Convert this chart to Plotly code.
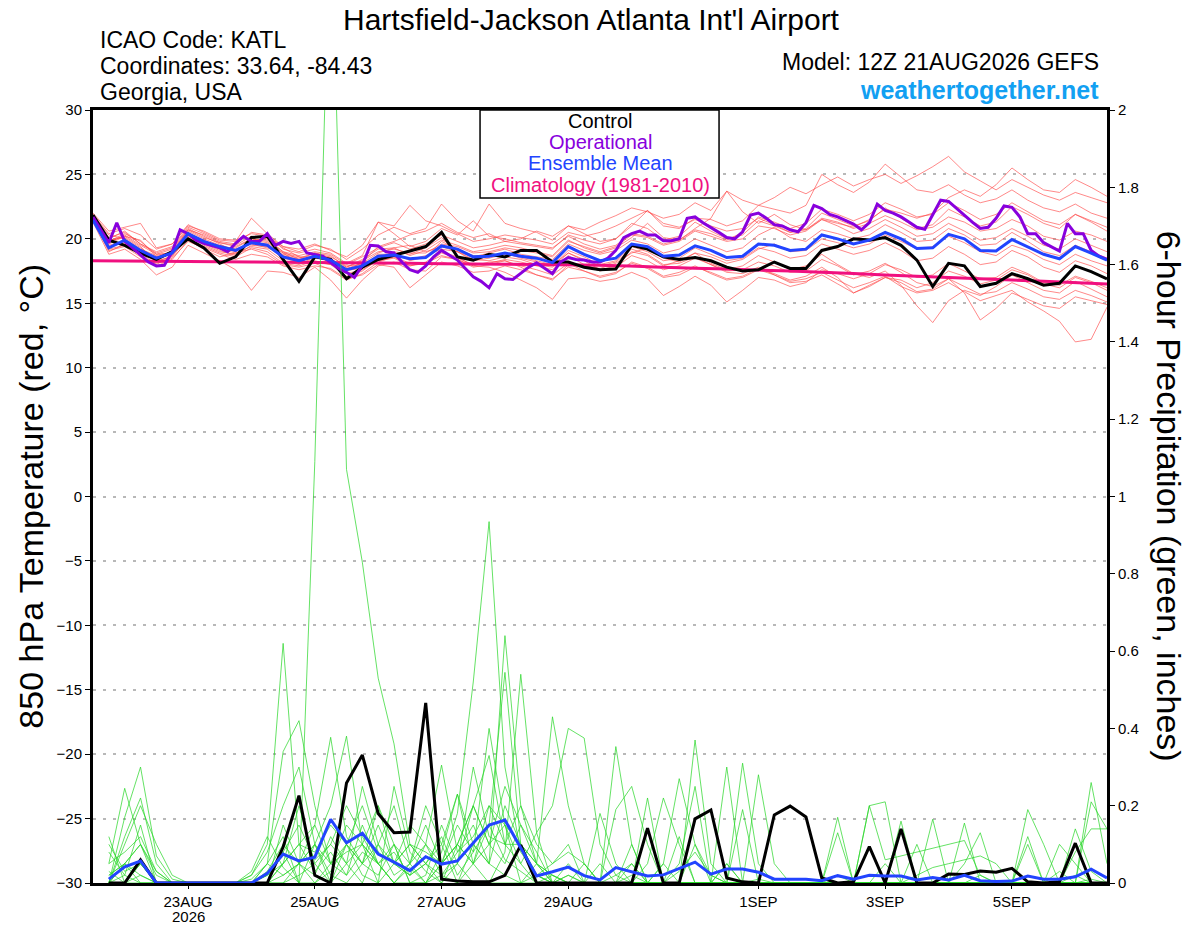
# GEFS meteogram for KATL - 850 hPa temperature plumes and 6-hour precipitation

import pandas as pd
import plotly.graph_objects as go

run_start = "2026-08-21 12:00"
times = pd.date_range(run_start, periods=65, freq="6h")       # 6-hourly members
times_3h = pd.date_range(run_start, periods=129, freq="3h")   # operational run
clim_times = pd.date_range(run_start, periods=17, freq="1D")  # climatology
precip_times = times[1:]                                      # no precip at analysis time

tick_dates = ["2026-08-23", "2026-08-25", "2026-08-27", "2026-08-29",
              "2026-09-01", "2026-09-03", "2026-09-05"]
tick_labels = ["23AUG", "25AUG", "27AUG", "29AUG", "1SEP", "3SEP", "5SEP"]
year_label = "2026"

# 850 hPa temperature (deg C)
temp_control = [21.85, 19.9, 19.5, 18.9, 18.4, 19.0, 20.0, 19.3, 18.1, 18.6, 20.1, 20.2, 18.4, 16.7, 18.6, 18.4, 16.9,
                17.8, 18.4, 18.7, 19.05, 19.4, 20.5, 18.6, 18.35, 18.8, 18.6, 19.1, 19.1, 18.2, 18.2, 17.8, 17.6,
                17.65, 19.5, 19.2, 18.6, 18.4, 18.55, 18.3, 17.8, 17.5, 17.6, 18.2, 17.7, 17.7, 19.1, 19.4, 20.0,
                19.9, 20.1, 19.5, 18.35, 16.3, 18.1, 17.9, 16.3, 16.55, 17.3, 16.9, 16.4, 16.55, 17.9, 17.45, 16.9]
temp_mean = [21.45, 19.3, 19.9, 19.1, 18.5, 18.9, 20.4, 19.8, 19.4, 19.1, 19.7, 19.5, 18.6, 18.3, 18.65, 18.35, 17.6,
             17.9, 18.65, 18.75, 18.45, 18.55, 19.45, 19.2, 18.6, 18.65, 18.9, 18.65, 18.5, 18.15, 19.4, 18.8, 18.3,
             18.5, 19.6, 19.4, 18.65, 18.75, 19.45, 19.1, 18.55, 18.65, 19.6, 19.5, 19.1, 19.2, 20.3, 20.0, 19.6,
             19.9, 20.5, 20.0, 19.25, 19.3, 20.35, 20.0, 19.1, 19.05, 19.95, 19.4, 18.8, 18.45, 19.4, 18.9, 18.35]
temp_oper = [21.7, 20.7, 19.7, 21.25, 19.8, 19.3, 18.75, 18.2, 17.9, 17.95, 19.0, 20.7, 20.4, 19.9, 19.65, 19.5, 19.3,
             19.0, 19.65, 20.2, 19.8, 19.8, 20.4, 19.5, 19.8, 19.65, 19.8, 18.9, 18.8, 18.65, 18.15, 17.7, 17.4,
             17.0, 17.95, 19.5, 19.45, 19.0, 18.9, 18.2, 17.6, 17.4, 17.9, 18.6, 19.1, 18.75, 18.35, 17.7, 17.05,
             16.7, 16.2, 17.3, 16.9, 16.85, 17.3, 17.8, 18.15, 17.7, 17.3, 18.2, 18.55, 18.4, 18.35, 18.2, 18.2,
             18.5, 19.1, 20.1, 20.4, 20.6, 20.3, 20.3, 19.85, 19.85, 20.0, 21.6, 21.7, 21.25, 20.9, 20.5, 20.1,
             20.0, 20.55, 21.85, 22.0, 21.6, 21.1, 21.0, 20.7, 20.55, 21.25, 22.6, 22.35, 21.9, 21.7, 21.4, 21.15,
             20.7, 21.25, 22.7, 22.2, 22.0, 21.7, 21.3, 20.9, 20.75, 21.85, 23.0, 22.9, 22.35, 21.85, 21.3, 20.8,
             20.9, 21.6, 22.55, 22.45, 21.7, 20.4, 20.4, 19.7, 19.4, 19.05, 21.2, 20.4, 20.4, 19.1, 18.65, 18.4]
temp_clim = [18.3, 18.26, 18.22, 18.18, 18.14, 18.1, 18.05, 18.0, 17.95, 17.8, 17.65, 17.5, 17.3, 17.1, 16.9, 16.7, 16.5]

temp_m01 = [21.8, 20.1, 20.5, 19.6, 18.9, 19.3, 20.8, 20.2, 19.6, 19.0, 19.8, 20.1, 19.3, 18.6, 18.2, 18.0, 17.5,
            18.2, 19.4, 19.8, 20.3, 20.6, 21.2, 20.5, 20.1, 20.4, 19.8, 20.0, 20.6, 20.2, 21.0, 20.7, 21.3,
            21.8, 22.4, 22.1, 21.6, 21.9, 22.8, 22.2, 23.7, 23.0, 22.6, 23.2, 24.0, 23.5, 24.2, 24.8, 24.1,
            24.6, 25.0, 24.3, 24.9, 25.6, 26.4, 25.2, 24.5, 23.8, 24.6, 24.0, 23.4, 23.0, 23.6, 23.2, 22.8]
temp_m02 = [21.5, 19.0, 19.6, 18.7, 17.9, 18.4, 19.9, 19.2, 18.6, 18.9, 19.2, 18.8, 18.0, 17.8, 18.1, 17.6, 16.8,
            17.3, 18.2, 18.6, 17.9, 18.1, 18.7, 18.4, 17.8, 18.0, 18.3, 17.9, 17.6, 17.2, 18.1, 17.5, 17.0,
            17.3, 18.2, 17.8, 17.1, 17.4, 17.9, 17.3, 16.8, 17.0, 17.6, 17.2, 16.7, 16.9, 17.4, 16.8, 16.2,
            16.6, 17.1, 16.3, 15.8, 16.0, 16.6, 15.9, 15.2, 15.6, 16.0, 15.1, 14.4, 13.6, 12.0, 12.2, 14.7]
temp_m03 = [21.7, 19.6, 20.2, 19.4, 18.2, 18.7, 20.3, 19.5, 19.0, 18.8, 19.9, 19.7, 18.9, 18.1, 18.8, 18.6, 17.9,
            18.0, 18.5, 19.0, 18.8, 19.3, 20.1, 19.0, 18.4, 18.3, 18.6, 18.4, 18.0, 17.8, 18.9, 18.3, 17.6,
            17.9, 19.0, 18.7, 17.9, 18.3, 18.9, 18.1, 17.6, 17.9, 18.7, 18.2, 17.6, 17.9, 18.8, 18.0, 17.3,
            17.0, 17.5, 16.4, 14.8, 13.5, 15.2, 16.0, 15.6, 16.3, 17.2, 16.6, 16.0, 15.8, 16.7, 16.1, 15.5]
temp_m04 = [22.0, 20.6, 20.9, 21.2, 19.3, 19.6, 21.1, 20.5, 19.9, 19.8, 21.6, 20.4, 19.4, 19.0, 19.5, 19.2, 18.4,
            19.2, 20.3, 20.9, 20.4, 20.8, 22.7, 21.4, 20.6, 22.7, 21.2, 20.8, 20.5, 19.9, 21.0, 20.4, 19.8,
            20.0, 21.2, 20.8, 19.9, 20.2, 21.3, 20.6, 20.0, 20.3, 21.4, 21.0, 20.5, 20.8, 22.0, 21.5, 21.0,
            21.4, 22.4, 21.6, 20.8, 21.1, 22.3, 21.7, 21.0, 21.3, 22.5, 21.9, 21.2, 20.8, 21.9, 21.3, 20.6]
temp_m05 = [21.3, 18.8, 19.2, 18.4, 17.2, 17.8, 19.5, 18.9, 18.3, 17.6, 16.0, 17.5, 17.4, 17.0, 17.8, 16.8, 15.4,
            16.8, 17.9, 18.2, 17.6, 17.5, 18.6, 18.4, 17.9, 18.2, 18.3, 17.8, 17.2, 16.8, 18.0, 17.9, 17.7,
            18.1, 18.9, 19.3, 18.5, 18.2, 18.9, 18.6, 18.1, 18.4, 19.2, 19.6, 19.0, 19.1, 20.0, 19.7, 19.3,
            19.6, 20.3, 19.8, 19.2, 19.4, 20.2, 19.7, 19.0, 18.7, 19.5, 19.1, 18.4, 18.0, 18.8, 18.3, 17.9]
temp_m06 = [21.6, 19.4, 19.7, 19.0, 18.6, 18.8, 20.0, 19.7, 19.2, 18.9, 19.4, 19.2, 18.3, 18.0, 18.6, 18.2, 17.3,
            17.6, 18.3, 18.5, 17.9, 18.2, 19.0, 18.6, 17.9, 17.8, 17.4, 16.8, 16.2, 15.3, 16.9, 17.0, 16.7,
            16.9, 17.4, 16.9, 15.6, 16.3, 17.1, 16.4, 15.1, 16.0, 17.0, 16.8, 16.3, 16.6, 17.6, 17.3, 16.9,
            17.3, 18.0, 17.6, 17.0, 17.2, 18.1, 17.5, 16.9, 17.0, 17.8, 17.3, 16.6, 16.4, 17.1, 16.7, 16.2]
temp_m07 = [21.9, 19.8, 20.4, 19.8, 18.8, 19.2, 20.7, 20.3, 19.7, 19.5, 20.2, 20.0, 19.0, 18.7, 19.0, 18.8, 18.0,
            18.6, 19.3, 19.7, 19.2, 19.6, 20.3, 19.8, 19.3, 19.5, 19.8, 19.6, 19.4, 19.2, 20.3, 19.9, 19.6,
            20.0, 21.0, 22.2, 21.0, 20.8, 21.6, 21.5, 21.0, 21.4, 22.6, 22.3, 22.0, 22.6, 25.0, 24.2, 23.6,
            24.4, 25.8, 24.8, 23.8, 23.6, 24.2, 23.4, 22.8, 23.1, 23.8, 23.0, 22.4, 22.1, 22.7, 22.0, 21.6]
temp_m08 = [21.7, 19.9, 20.1, 19.3, 18.4, 19.1, 20.6, 20.0, 19.5, 19.2, 19.6, 19.3, 18.8, 18.5, 18.9, 18.7, 17.8,
            18.3, 19.0, 19.2, 18.9, 18.9, 19.6, 19.4, 18.9, 19.0, 19.3, 19.1, 18.9, 18.6, 19.8, 19.4, 19.0,
            19.4, 20.3, 20.1, 19.5, 19.8, 20.6, 20.2, 19.8, 20.0, 21.0, 20.8, 20.3, 20.6, 21.5, 21.2, 20.9,
            21.5, 22.3, 22.0, 21.6, 22.0, 23.2, 23.8, 23.3, 24.2, 25.5, 24.6, 23.8, 23.6, 24.6, 24.0, 23.3]
temp_m09 = [21.4, 19.2, 19.5, 18.9, 18.3, 18.6, 20.1, 19.4, 18.9, 18.6, 19.3, 19.0, 18.1, 17.9, 18.3, 18.0, 17.1,
            17.5, 18.4, 18.6, 18.1, 18.0, 18.9, 18.5, 18.0, 18.1, 18.4, 18.2, 17.9, 17.6, 18.7, 18.0, 17.5,
            17.8, 18.7, 18.3, 17.6, 17.9, 18.5, 18.0, 17.5, 17.6, 18.2, 17.9, 17.4, 17.5, 18.4, 17.9, 17.2,
            17.5, 18.1, 17.4, 16.6, 16.3, 16.9, 15.8, 13.7, 14.6, 15.8, 15.3, 14.8, 14.6, 15.5, 15.2, 14.9]
temp_m10 = [21.6, 20.0, 20.6, 19.6, 19.0, 19.4, 20.9, 20.4, 19.8, 19.6, 20.5, 20.3, 19.2, 18.9, 19.2, 18.9, 18.1,
            18.7, 21.3, 20.4, 19.4, 19.8, 20.8, 20.3, 21.4, 20.2, 20.0, 19.7, 19.5, 19.3, 20.2, 19.6, 19.2,
            19.5, 20.4, 20.2, 19.6, 19.9, 20.8, 21.6, 23.7, 22.1, 21.2, 21.9, 21.1, 20.7, 21.6, 21.3, 20.8,
            21.2, 21.8, 21.3, 20.7, 20.9, 21.7, 21.3, 20.6, 20.8, 21.5, 21.0, 20.2, 19.9, 20.6, 20.3, 19.8]
temp_m11 = [21.5, 19.1, 19.4, 18.6, 18.1, 18.5, 19.8, 19.3, 18.8, 18.4, 18.8, 18.6, 17.9, 17.6, 17.9, 17.7, 16.9,
            17.2, 18.0, 17.8, 16.2, 17.2, 18.2, 17.9, 17.4, 17.5, 17.9, 17.6, 17.2, 16.9, 17.8, 17.5, 17.1,
            17.4, 18.1, 17.7, 17.0, 17.2, 17.8, 17.4, 16.9, 17.1, 17.7, 17.3, 16.8, 17.1, 17.8, 17.0, 15.8,
            16.4, 17.0, 16.6, 15.9, 16.1, 16.9, 16.3, 15.7, 15.9, 16.6, 16.1, 15.5, 15.3, 16.0, 15.6, 15.1]
temp_m12 = [21.8, 20.3, 20.0, 19.2, 18.7, 19.0, 20.4, 19.9, 19.3, 19.3, 20.0, 19.9, 19.0, 18.4, 18.5, 18.3, 17.7,
            18.1, 18.9, 19.3, 19.5, 19.0, 19.4, 19.0, 18.6, 18.9, 19.2, 18.8, 18.6, 18.4, 19.6, 19.1, 18.8,
            19.1, 19.9, 19.6, 18.9, 19.2, 20.0, 19.5, 19.0, 19.3, 20.3, 20.9, 20.1, 19.8, 20.7, 20.4, 20.0,
            20.3, 21.1, 20.5, 19.8, 19.9, 20.8, 20.3, 19.5, 19.6, 20.5, 19.8, 19.0, 18.7, 19.5, 19.0, 18.5]
temp_m13 = [21.9, 20.4, 20.8, 20.3, 19.2, 19.6, 21.0, 20.6, 20.0, 19.9, 20.4, 20.2, 19.4, 19.2, 19.6, 19.1, 18.6,
            19.5, 21.3, 21.0, 22.6, 21.4, 21.0, 20.4, 19.8, 20.0, 20.3, 20.1, 19.9, 19.6, 20.5, 20.2, 20.5,
            21.0, 21.6, 22.2, 21.2, 20.9, 21.5, 21.0, 20.6, 20.8, 21.6, 21.1, 20.5, 20.7, 21.5, 21.0, 20.4,
            20.8, 21.5, 20.9, 20.2, 20.4, 21.2, 20.6, 19.9, 20.1, 20.8, 20.2, 19.5, 19.2, 20.0, 19.5, 19.0]
temp_m14 = [21.4, 19.5, 19.8, 18.9, 18.0, 18.7, 20.2, 19.6, 19.1, 18.7, 19.5, 19.4, 18.5, 18.2, 18.7, 18.5, 17.6,
            17.7, 18.6, 18.9, 18.3, 18.6, 19.8, 19.2, 18.7, 18.6, 18.9, 18.5, 18.2, 17.9, 19.1, 18.6, 18.0,
            18.3, 19.4, 19.0, 18.3, 18.5, 19.3, 18.8, 18.3, 18.5, 19.3, 19.0, 18.5, 18.7, 19.6, 19.2, 18.8,
            19.1, 19.7, 19.1, 18.3, 18.5, 19.4, 18.8, 18.0, 18.2, 19.1, 18.6, 17.8, 17.4, 18.3, 17.9, 17.3]
temp_m15 = [21.6, 19.7, 20.3, 19.5, 18.8, 18.9, 20.5, 19.8, 19.4, 19.0, 19.7, 19.6, 18.7, 18.4, 18.9, 18.5, 17.5,
            17.8, 18.8, 18.8, 18.4, 18.7, 19.2, 19.0, 18.3, 18.5, 18.8, 18.6, 18.3, 18.0, 18.9, 18.4, 17.9,
            18.2, 19.2, 18.8, 18.0, 18.1, 18.6, 18.0, 17.4, 17.3, 17.8, 17.2, 16.6, 16.7, 17.2, 16.5, 15.8,
            16.3, 17.0, 16.8, 16.2, 16.6, 17.5, 17.1, 16.5, 16.8, 17.6, 17.2, 16.5, 16.2, 17.0, 16.6, 16.0]
temp_m16 = [21.7, 19.8, 20.2, 19.9, 18.6, 19.0, 20.7, 20.1, 19.7, 19.4, 20.0, 19.8, 18.9, 18.6, 18.6, 18.4, 17.8,
            18.4, 19.2, 19.3, 18.7, 19.1, 19.9, 19.5, 19.0, 19.2, 19.5, 19.3, 19.0, 18.7, 19.9, 19.3, 18.9,
            19.3, 20.1, 21.2, 20.1, 19.9, 20.7, 20.4, 19.9, 20.5, 21.7, 21.3, 20.8, 21.2, 22.3, 21.9, 21.4,
            21.9, 22.8, 22.3, 21.7, 21.9, 22.8, 22.2, 21.5, 21.9, 22.8, 22.1, 21.4, 21.1, 21.9, 21.4, 20.9]

# 6-hour precipitation (inches), valid 21AUG18Z .. 06SEP12Z
precip_control = [0, 0, 0.06, 0, 0, 0, 0, 0, 0, 0,
                  0, 0.093, 0.226, 0.02, 0, 0.259, 0.331, 0.18, 0.13, 0.132,
                  0.466, 0.01, 0.005, 0.003, 0.003, 0.02, 0.098, 0, 0, 0, 0,
                  0, 0, 0, 0.142, 0, 0, 0.166, 0.189, 0.013, 0.003, 0,
                  0.176, 0.199, 0.171, 0.013, 0, 0.003, 0.094, 0, 0.14, 0, 0,
                  0.023, 0.022, 0.031, 0.028, 0.038, 0.003, 0, 0.003, 0.103, 0, 0]
precip_mean = [0.01, 0.042, 0.057, 0, 0, 0, 0, 0, 0, 0,
               0.025, 0.075, 0.057, 0.067, 0.165, 0.104, 0.129, 0.075, 0.054, 0.032,
               0.068, 0.049, 0.057, 0.103, 0.15, 0.163, 0.09, 0.018, 0.029, 0.041, 0.019,
               0.008, 0.04, 0.029, 0.018, 0.021, 0.038, 0.054, 0.023, 0.036, 0.036, 0.028,
               0.01, 0.01, 0.01, 0.006, 0.019, 0.01, 0.02, 0.018, 0.018, 0.008, 0.014,
               0.008, 0.02, 0.006, 0.004, 0.005, 0.018, 0.01, 0.01, 0.016, 0.036, 0.013]

precip_p01 = [0.02, 0.05, 0.1, 0.03, 0, 0, 0, 0, 0, 0.01,
              0.05, 0.12, 0.0, 1.09, 2.55, 1.07, 0.83, 0.53, 0.36, 0.1,
              0.05, 0.12, 0.02, 0.08, 0.15, 0.06, 0.03, 0.0, 0.02, 0.0, 0.0,
              0.0, 0.02, 0.05, 0.0, 0.0, 0.03, 0.08, 0.02, 0.0, 0.0, 0.01,
              0.0, 0.0, 0.0, 0.0, 0.02, 0.0, 0.0, 0.05, 0.0, 0.0, 0.0,
              0.0, 0.0, 0.02, 0.0, 0.0, 0.0, 0.0, 0.03, 0.0, 0.01, 0.0]
precip_p02 = [0.0, 0.12, 0.22, 0.05, 0, 0, 0, 0, 0, 0,
              0.02, 0.08, 0.15, 0.06, 0.1, 0.2, 0.12, 0.05, 0.08, 0.02,
              0.1, 0.05, 0.18, 0.52, 0.935, 0.3, 0.08, 0.02, 0.0, 0.05, 0.0,
              0.0, 0.0, 0.02, 0.0, 0.05, 0.0, 0.1, 0.02, 0.0, 0.0, 0.0,
              0.0, 0.0, 0.0, 0.0, 0.0, 0.0, 0.0, 0.0, 0.0, 0.0, 0.0,
              0.0, 0.0, 0.0, 0.0, 0.0, 0.0, 0.0, 0.0, 0.02, 0.0, 0.0]
precip_p03 = [0.05, 0.245, 0.1, 0.02, 0, 0, 0, 0, 0, 0.02,
              0.1, 0.62, 0.1, 0.03, 0.08, 0.02, 0.15, 0.05, 0.0, 0.04,
              0.0, 0.08, 0.23, 0.1, 0.05, 0.64, 0.2, 0.05, 0.0, 0.0, 0.0,
              0.18, 0.05, 0.0, 0.0, 0.0, 0.0, 0.0, 0.0, 0.0, 0.0, 0.0,
              0.0, 0.0, 0.0, 0.0, 0.13, 0.0, 0.0, 0.0, 0.0, 0.0, 0.0,
              0.0, 0.0, 0.0, 0.0, 0.0, 0.12, 0.0, 0.0, 0.0, 0.0, 0.0]
precip_p04 = [0.0, 0.17, 0.3, 0.07, 0.01, 0, 0, 0, 0, 0,
              0.05, 0.34, 0.42, 0.2, 0.05, 0.1, 0.02, 0.0, 0.25, 0.08,
              0.03, 0.0, 0.1, 0.05, 0.0, 0.08, 0.54, 0.13, 0.0, 0.0, 0.0,
              0.0, 0.0, 0.0, 0.05, 0.22, 0.1, 0.0, 0.0, 0.3, 0.0, 0.0,
              0.0, 0.0, 0.0, 0.0, 0.0, 0.0, 0.2, 0.21, 0.0, 0.0, 0.0,
              0.0, 0.0, 0.0, 0.0, 0.0, 0.0, 0.0, 0.0, 0.14, 0.03, 0.0]
precip_p05 = [0.08, 0.02, 0.15, 0.0, 0, 0, 0, 0, 0, 0,
              0.0, 0.05, 0.1, 0.15, 0.377, 0.12, 0.05, 0.2, 0.1, 0.0,
              0.0, 0.05, 0.1, 0.2, 0.33, 0.1, 0.05, 0.13, 0.2, 0.4, 0.375,
              0.1, 0.02, 0.0, 0.0, 0.0, 0.0, 0.0, 0.0, 0.0, 0.0, 0.0,
              0.0, 0.0, 0.0, 0.0, 0.0, 0.0, 0.0, 0.0, 0.0, 0.0, 0.0,
              0.0, 0.0, 0.0, 0.0, 0.0, 0.0, 0.0, 0.0, 0.0, 0.0, 0.0]
precip_p06 = [0.02, 0.05, 0.0, 0.0, 0, 0, 0, 0, 0, 0.03,
              0.12, 0.04, 0.0, 0.1, 0.2, 0.38, 0.1, 0.2, 0.05, 0.15,
              0.1, 0.305, 0.08, 0.15, 0.05, 0.2, 0.1, 0.05, 0.43, 0.2, 0.05,
              0.0, 0.353, 0.1, 0.0, 0.05, 0.27, 0.1, 0.0, 0.0, 0.31, 0.05,
              0.0, 0.0, 0.0, 0.0, 0.0, 0.0, 0.0, 0.0, 0.0, 0.0, 0.0,
              0.0, 0.0, 0.0, 0.0, 0.0, 0.0, 0.0, 0.0, 0.0, 0.26, 0.05]
precip_p07 = [0.1, 0.03, 0.05, 0.0, 0, 0, 0, 0, 0, 0,
              0.03, 0.1, 0.05, 0.02, 0.12, 0.05, 0.25, 0.1, 0.02, 0.05,
              0.2, 0.1, 0.23, 0.05, 0.15, 0.545, 0.1, 0.02, 0.05, 0.1, 0.0,
              0.0, 0.19, 0.25, 0.1, 0.0, 0.0, 0.37, 0.05, 0.0, 0.0, 0.28,
              0.05, 0.0, 0.0, 0.0, 0.17, 0.0, 0.0, 0.0, 0.0, 0.0, 0.0,
              0.0, 0.0, 0.0, 0.0, 0.0, 0.19, 0.1, 0.0, 0.0, 0.21, 0.14]
precip_p08 = [0.0, 0.1, 0.2, 0.1, 0.02, 0, 0, 0, 0, 0,
              0.02, 0.05, 0.2, 0.05, 0.0, 0.1, 0.05, 0.15, 0.05, 0.02,
              0.05, 0.0, 0.05, 0.2, 0.1, 0.25, 0.15, 0.08, 0.0, 0.02, 0.0,
              0.05, 0.0, 0.0, 0.22, 0.0, 0.05, 0.25, 0.0, 0.0, 0.19, 0.0,
              0.0, 0.0, 0.0, 0.0, 0.0, 0.0, 0.0, 0.0, 0.16, 0.0, 0.0,
              0.0, 0.155, 0.0, 0.0, 0.0, 0.0, 0.0, 0.0, 0.0, 0.0, 0.0]
precip_p09 = [0.03, 0.0, 0.05, 0.0, 0, 0, 0, 0, 0, 0,
              0.0, 0.15, 0.05, 0.1, 0.05, 0.15, 0.1, 0.05, 0.1, 0.05,
              0.15, 0.05, 0.1, 0.05, 0.2, 0.1, 0.1, 0.05, 0.0, 0.0, 0.0,
              0.0, 0.0, 0.0, 0.0, 0.0, 0.0, 0.0, 0.0, 0.0, 0.0, 0.0,
              0.0, 0.0, 0.0, 0.0, 0.0, 0.0, 0.0, 0.0, 0.0, 0.0, 0.165,
              0.0, 0.05, 0.13, 0.0, 0.0, 0.0, 0.0, 0.0, 0.0, 0.0, 0.0]
precip_p10 = [0.0, 0.0, 0.02, 0.0, 0, 0, 0, 0, 0, 0,
              0.0, 0.0, 0.02, 0.05, 0.1, 0.05, 0.1, 0.0, 0.05, 0.1,
              0.05, 0.1, 0.0, 0.05, 0.1, 0.15, 0.05, 0.0, 0.0, 0.02, 0.0,
              0.0, 0.0, 0.05, 0.0, 0.0, 0.0, 0.0, 0.0, 0.05, 0.0, 0.0,
              0.0, 0.0, 0.0, 0.0, 0.0, 0.0, 0.2, 0.06, 0.07, 0.08, 0.09,
              0.1, 0.11, 0.02, 0.0, 0.0, 0.0, 0.0, 0.1, 0.05, 0.0, 0.0]
precip_p11 = [0.0, 0.05, 0.02, 0.0, 0, 0, 0, 0, 0, 0,
              0.02, 0.08, 0.0, 0.0, 0.05, 0.02, 0.08, 0.05, 0.0, 0.0,
              0.02, 0.15, 0.05, 0.3, 0.12, 0.1, 0.2, 0.1, 0.05, 0.08, 0.05,
              0.0, 0.0, 0.1, 0.0, 0.0, 0.12, 0.0, 0.0, 0.05, 0.0, 0.0,
              0.0, 0.0, 0.0, 0.0, 0.0, 0.0, 0.0, 0.0, 0.0, 0.0, 0.0,
              0.0, 0.0, 0.0, 0.0, 0.0, 0.1, 0.0, 0.0, 0.08, 0.14, 0.14]
precip_p12 = [0.05, 0.08, 0.12, 0.03, 0, 0, 0, 0, 0, 0.02,
              0.08, 0.2, 0.3, 0.1, 0.0, 0.05, 0.0, 0.1, 0.2, 0.05,
              0.0, 0.05, 0.15, 0.08, 0.4, 0.15, 0.0, 0.05, 0.02, 0.0, 0.0,
              0.0, 0.0, 0.0, 0.0, 0.0, 0.0, 0.0, 0.0, 0.0, 0.0, 0.0,
              0.0, 0.0, 0.0, 0.0, 0.0, 0.0, 0.0, 0.0, 0.0, 0.0, 0.0,
              0.0, 0.0, 0.0, 0.0, 0.0, 0.0, 0.0, 0.0, 0.0, 0.0, 0.0]
precip_p13 = [0.0, 0.0, 0.0, 0.0, 0, 0, 0, 0, 0, 0,
              0.0, 0.05, 0.1, 0.08, 0.15, 0.1, 0.2, 0.08, 0.05, 0.1,
              0.08, 0.05, 0.1, 0.2, 0.1, 0.05, 0.15, 0.05, 0.02, 0.0, 0.0,
              0.0, 0.0, 0.0, 0.0, 0.0, 0.0, 0.0, 0.0, 0.0, 0.0, 0.0,
              0.0, 0.0, 0.0, 0.0, 0.0, 0.0, 0.0, 0.0, 0.0, 0.0, 0.0,
              0.0, 0.0, 0.0, 0.0, 0.0, 0.0, 0.0, 0.0, 0.0, 0.0, 0.0]
precip_p14 = [0.12, 0.0, 0.05, 0.0, 0, 0, 0, 0, 0, 0,
              0.05, 0.02, 0.05, 0.0, 0.03, 0.1, 0.05, 0.02, 0.1, 0.0,
              0.0, 0.02, 0.05, 0.0, 0.0, 0.0, 0.0, 0.02, 0.0, 0.0, 0.05,
              0.0, 0.0, 0.0, 0.0, 0.0, 0.0, 0.0, 0.0, 0.0, 0.0, 0.0,
              0.0, 0.0, 0.0, 0.0, 0.0, 0.0, 0.0, 0.0, 0.0, 0.0, 0.0,
              0.0, 0.0, 0.0, 0.0, 0.0, 0.0, 0.0, 0.0, 0.0, 0.0, 0.0]
precip_p15 = [0.0, 0.02, 0.0, 0.0, 0, 0, 0, 0, 0, 0,
              0.0, 0.0, 0.05, 0.15, 0.05, 0.08, 0.1, 0.05, 0.0, 0.05,
              0.1, 0.02, 0.0, 0.1, 0.05, 0.02, 0.0, 0.0, 0.0, 0.0, 0.0,
              0.0, 0.0, 0.0, 0.0, 0.0, 0.0, 0.0, 0.0, 0.0, 0.0, 0.0,
              0.0, 0.0, 0.0, 0.0, 0.0, 0.0, 0.0, 0.0, 0.0, 0.02, 0.04,
              0.05, 0.06, 0.07, 0.05, 0.0, 0.0, 0.0, 0.0, 0.0, 0.0, 0.0]
precip_p16 = [0.0, 0.05, 0.1, 0.0, 0, 0, 0, 0, 0, 0,
              0.0, 0.02, 0.05, 0.1, 0.02, 0.0, 0.05, 0.1, 0.05, 0.02,
              0.05, 0.02, 0.08, 0.12, 0.2, 0.15, 0.1, 0.02, 0.0, 0.0, 0.0,
              0.0, 0.0, 0.0, 0.0, 0.0, 0.0, 0.0, 0.0, 0.0, 0.0, 0.0,
              0.0, 0.0, 0.0, 0.0, 0.0, 0.0, 0.0, 0.0, 0.0, 0.1, 0.0,
              0.0, 0.0, 0.0, 0.0, 0.0, 0.0, 0.0, 0.0, 0.0, 0.0, 0.0]

temp_members = [temp_m01, temp_m02, temp_m03, temp_m04, temp_m05, temp_m06, temp_m07, temp_m08,
                temp_m09, temp_m10, temp_m11, temp_m12, temp_m13, temp_m14, temp_m15, temp_m16]
precip_members = [precip_p01, precip_p02, precip_p03, precip_p04, precip_p05, precip_p06, precip_p07, precip_p08,
                  precip_p09, precip_p10, precip_p11, precip_p12, precip_p13, precip_p14, precip_p15, precip_p16]

for s in temp_members + [temp_control, temp_mean]:
    assert len(s) == len(times), len(s)
for s in precip_members + [precip_control, precip_mean]:
    assert len(s) == len(precip_times), len(s)
assert len(temp_oper) == len(times_3h)

FONT = "Liberation Sans, Arial, Helvetica, sans-serif"
RED = "rgba(255,70,70,0.8)"
GREEN = "rgba(40,215,40,0.9)"
PURPLE = "#8800dd"
BLUE = "#2244ff"
PINK = "#f0107f"

fig = go.Figure()

# ensemble members first so the thick lines sit on top
for m in temp_members:
    fig.add_trace(go.Scatter(x=times, y=m, mode="lines", line=dict(color=RED, width=0.8),
                             hoverinfo="skip", showlegend=False))
for p in precip_members:
    fig.add_trace(go.Scatter(x=precip_times, y=p, mode="lines", line=dict(color=GREEN, width=0.8),
                             yaxis="y2", hoverinfo="skip", showlegend=False))

fig.add_trace(go.Scatter(x=precip_times, y=precip_control, mode="lines", yaxis="y2",
                         line=dict(color="black", width=3), showlegend=False))
fig.add_trace(go.Scatter(x=precip_times, y=precip_mean, mode="lines", yaxis="y2",
                         line=dict(color=BLUE, width=3), showlegend=False))

fig.add_trace(go.Scatter(x=clim_times, y=temp_clim, mode="lines", line=dict(color=PINK, width=3),
                         line_shape="spline", showlegend=False))
fig.add_trace(go.Scatter(x=times, y=temp_control, mode="lines", line=dict(color="black", width=3),
                         showlegend=False))
fig.add_trace(go.Scatter(x=times_3h, y=temp_oper, mode="lines", line=dict(color=PURPLE, width=3),
                         showlegend=False))
fig.add_trace(go.Scatter(x=times, y=temp_mean, mode="lines", line=dict(color=BLUE, width=3),
                         showlegend=False))

# legend box, drawn by hand like the original
fig.add_shape(type="rect", xref="paper", yref="paper", x0=0.3817, x1=0.6174, y0=0.8862, y1=1.0,
              line=dict(color="black", width=1.5), fillcolor="white", layer="above")
legend_rows = [("Control", "black", 0.9855), ("Operational", PURPLE, 0.9585),
               ("Ensemble Mean", BLUE, 0.9313), ("Climatology (1981-2010)", PINK, 0.9035)]
for txt, col, yy in legend_rows:
    fig.add_annotation(text=txt, x=0.5, y=yy, xref="paper", yref="paper", showarrow=False,
                       xanchor="center", yanchor="middle", font=dict(size=20, color=col, family=FONT))

# header texts
header = [
    ("Hartsfield-Jackson Atlanta Int'l Airport", 0.4913, 1.1165, "center", 30, "black", False),
    ("ICAO Code: KATL", 0.005, 1.0906, "left", 23, "black", False),
    ("Coordinates: 33.64, -84.43", 0.005, 1.0569, "left", 23, "black", False),
    ("Georgia, USA", 0.005, 1.0233, "left", 23, "black", False),
    ("Model: 12Z 21AUG2026 GEFS", 0.994, 1.062, "right", 23, "black", False),
    ("weathertogether.net", 0.994, 1.0255, "right", 25, "#12a0f2", True),
]
for txt, xx, yy, anchor, size, col, bold in header:
    fig.add_annotation(text=f"<b>{txt}</b>" if bold else txt, x=xx, y=yy, xref="paper", yref="paper",
                       showarrow=False, xanchor=anchor, yanchor="middle",
                       font=dict(size=size, color=col, family=FONT))

# year under the first date label, pinned to the bottom edge
fig.add_annotation(text=year_label, x=pd.Timestamp(tick_dates[0]), y=-0.0569, xref="x", yref="paper",
                   showarrow=False, xanchor="center", yanchor="bottom", font=dict(size=15, family=FONT))

# axis titles (right one reads top to bottom)
fig.add_annotation(text="850 hPa Temperature (red, °C)", x=-0.062, y=0.5, xref="paper", yref="paper",
                   showarrow=False, textangle=-90, xanchor="center", yanchor="middle",
                   font=dict(size=34, color="black", family=FONT))
fig.add_annotation(text="6-hour Precipitation (green, inches)", x=1.062, y=0.5, xref="paper", yref="paper",
                   showarrow=False, textangle=90, xanchor="center", yanchor="middle",
                   font=dict(size=34, color="black", family=FONT))

fig.update_layout(
    width=1200, height=927,
    margin=dict(l=93, r=93, t=110, b=44),
    paper_bgcolor="white", plot_bgcolor="white",
    font=dict(family=FONT, color="black"),
    showlegend=False,
    xaxis=dict(range=[times[0], times[-1]], tickvals=pd.to_datetime(tick_dates), ticktext=tick_labels,
               showgrid=False, zeroline=False, showline=True, linecolor="black", linewidth=3, mirror=True,
               ticks="outside", ticklen=3, tickcolor="black", tickfont=dict(size=15), automargin=False),
    yaxis=dict(range=[-30, 30], dtick=5, tick0=-30, showgrid=True, gridcolor="#b8b8b8", griddash="3px,7px",
               gridwidth=1.5, zeroline=False, showline=True, linecolor="black", linewidth=3, mirror=True,
               ticks="outside", ticklen=5, tickcolor="black", tickfont=dict(size=15), automargin=False),
    yaxis2=dict(range=[0, 2], dtick=0.2, tick0=0, overlaying="y", side="right", showgrid=False,
                zeroline=False, showline=True, linecolor="black", linewidth=3, ticks="outside",
                ticklen=5, tickcolor="black", tickfont=dict(size=15), tickformat="~g", automargin=False),
)

# drop the default page margin so the figure sits at the window's top-left corner
fig.write_html("out.html", config={"displayModeBar": False},
               post_script="document.body.style.margin='0px';")
